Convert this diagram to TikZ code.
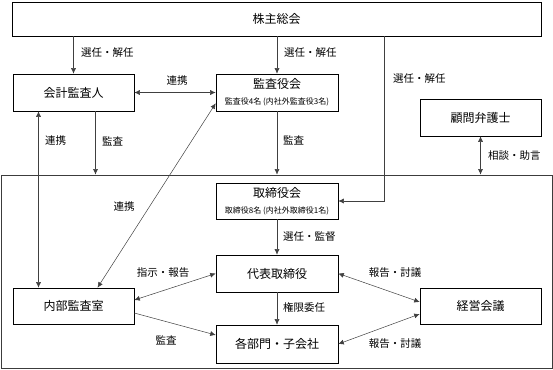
\documentclass[tikz,border=0pt]{standalone}
\usepackage{fontspec}
\setmainfont{Noto Sans CJK JP}
\usetikzlibrary{calc,arrows.meta,positioning}
\definecolor{linec}{HTML}{404040}
\definecolor{framec}{HTML}{3C3C3C}
\tikzset{
  box/.style={draw,fill=white,line width=.6pt,inner sep=0pt,minimum width=121pt,minimum height=37pt,align=center,font=\fontsize{12}{16}\selectfont},
  lbl/.style={inner sep=0pt,font=\fontsize{10.5}{12}\selectfont},
  con/.style={linec,line width=.5pt,-{Latex[length=5.5pt,width=5pt]}},
  con2/.style={con,{Latex[length=5.5pt,width=5pt]}-{Latex[length=5.5pt,width=5pt]}}
}
\newcommand{\subline}[1]{\\{\fontsize{8}{9}\selectfont #1}}

\begin{document}
\begin{tikzpicture}[x=1pt,y=-1pt]
\useasboundingbox (0,0) rectangle (553,369);
% frame round the executive side
\node[draw=framec,line width=.8pt,inner sep=0pt,minimum width=551pt,minimum height=193pt] (grp) at (276.5,271.5) {};
\node[box,minimum width=529pt,minimum height=34pt] (kabu) at (276.5,19) {株主総会};
\node[box] (kaikei) at (73.5,92.5) {会計監査人};
\node[box,minimum width=122pt] (kansa) at (277,92.5) {監査役会\subline{監査役4名 (内社外監査役3名)}};
\node[box] (komon) at (480.5,117.5) {顧問弁護士};
\node[box,minimum width=122pt,minimum height=36pt] (tori) at (277,201) {取締役会\subline{取締役8名 (内社外取締役1名)}};
\node[box,minimum width=122pt] (dai) at (277,273.5) {代表取締役};
\node[box,minimum width=122pt,minimum height=38pt] (kaku) at (277,344) {各部門・子会社};
\node[box,minimum height=36pt] (naibu) at (73.5,306) {内部監査室};
\node[box,minimum height=36pt] (keiei) at (480.5,306) {経営会議};
\coordinate (bend) at (384,201);
% connectors
\draw[con] (kabu.south -| kaikei.north) -- (kaikei.north);
\draw[con] (kabu.south -| kansa.north) -- (kansa.north);
\draw[con] (kabu.south -| bend) -- (bend) -- (tori.east);
\draw[con2] (kaikei.east) -- (kansa.west);
\draw[con] ([xshift=22pt]kaikei.south) -- ([xshift=22pt]kaikei.south |- grp.north);
\draw[con] (kansa.south) -- (kansa.south |- grp.north);
\draw[con2] (komon.south) -- (komon.south |- grp.north);
\draw[con2] ([xshift=-35pt]kaikei.south) -- ([xshift=-35pt]kaikei.south |- naibu.north);
\draw[con2] ([xshift=24pt]naibu.north) -- ([yshift=8pt]kansa.south west);
\draw[con] (tori.south) -- (dai.north);
\draw[con] (dai.south) -- (kaku.north);
\draw[con2] (dai.west) -- ([yshift=6pt]naibu.east);
\draw[con] ([yshift=-7pt]naibu.east) -- ([yshift=9pt]kaku.west);
\draw[con2] (dai.east) -- ([yshift=4pt]keiei.west);
\draw[con2] (kaku.east) -- ([yshift=-8pt]keiei.west);
% labels
\node[lbl,anchor=west] (l1) at (81,53) {選任・解任};
\node[lbl,anchor=west] (l2) at (284,53) {選任・解任};
\node[lbl,anchor=west] (l3) at (393,79) {選任・解任};
\node[lbl] (l4) at (177,81) {連携};
\node[lbl,anchor=west] (l5) at (45,141) {連携};
\node[lbl,anchor=west] (l6) at (102,141) {監査};
\node[lbl,anchor=west] (l7) at (283,140) {監査};
\node[lbl,anchor=west] (l8) at (488,156) {相談・助言};
\node[lbl] (l9) at (124,207) {連携};
\node[lbl,anchor=west] (l10) at (283,237) {選任・監督};
\node[lbl,anchor=west] (l11) at (283,307) {権限委任};
\node[lbl] (l12) at (163,273) {指示・報告};
\node[lbl] (l13) at (166,340) {監査};
\node[lbl] (l14) at (395,273) {報告・討議};
\node[lbl] (l15) at (395,344) {報告・討議};
\end{tikzpicture}
\end{document}
